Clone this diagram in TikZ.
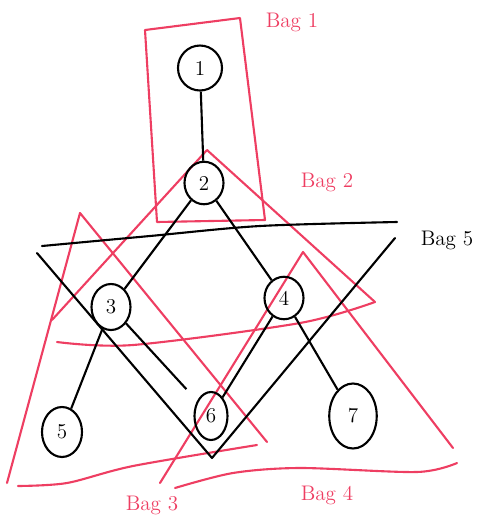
\documentclass[tikz,border=0pt]{standalone}
\usetikzlibrary{calc}
\usetikzlibrary{shapes.geometric}
\definecolor{bagred}{RGB}{238,62,98}

\begin{document}
\begin{tikzpicture}[x=0.02cm, y=-0.02cm, line width=1.2pt, main/.style = {draw, ellipse, minimum width=0.78cm, minimum height=0.85cm, inner sep=1pt, font=\large}, bag/.style = {draw=bagred, line join=round, line cap=round}, tag/.style = {font=\large}]
    \useasboundingbox (0,0) rectangle (488,525);
    % bags
    \draw[bag] (145,30) -- (240,18) -- (265,220) -- (157,222) -- cycle;
    \draw[bag] (52,320) -- (207,150) -- (375,302);
    \draw[bag] plot[smooth] coordinates {(57,342) (133,345) (300,323) (375,302)};
    \draw[bag] (7,483) -- (80,213) -- (267,442);
    \draw[bag] plot[smooth] coordinates {(18,486) (67,483) (133,466) (257,445)};
    \draw[bag] (160,483) -- (303,252) -- (453,448);
    \draw[bag] plot[smooth] coordinates {(175,488) (233,473) (300,468) (417,472) (457,463)};
    \draw[line cap=round] plot[smooth] coordinates {(42,246) (150,236) (260,226) (397,222)};
    \draw[line cap=round, line join=round] (37,253) -- (212,458) -- (395,238);
    \node[tag, text=bagred] (b1) at (292,22) {Bag 1};
    \node[tag, text=bagred] (b2) at (327,182) {Bag 2};
    \node[tag] (b5) at (447,240) {Bag 5};
    \node[tag, text=bagred] (b3) at (152,505) {Bag 3};
    \node[tag, text=bagred] (b4) at (327,495) {Bag 4};
    % tree
    \node[main, minimum width=0.88cm, minimum height=0.9cm] (1) at (200,68) {1};
    \node[main] (2) at (204,183) {2};
    \node[main, minimum height=0.92cm] (3) at (111,307) {3};
    \node[main] (4) at (284,298) {4};
    \node[main, minimum width=0.8cm, minimum height=1cm] (5) at (62,432) {5};
    \node[main, minimum width=0.66cm, minimum height=0.96cm] (6) at (211,416) {6};
    \node[main, minimum width=0.95cm, minimum height=1.3cm] (7) at (353,416) {7};
    \draw (1) -- (2);
    \draw (2) -- (3);
    \draw (2) -- (4);
    \draw (3) -- (5);
    \draw[shorten >=9pt] (3) -- (6);
    \draw (4) -- (6);
    \draw (4) -- (7);
\end{tikzpicture}
\end{document}
